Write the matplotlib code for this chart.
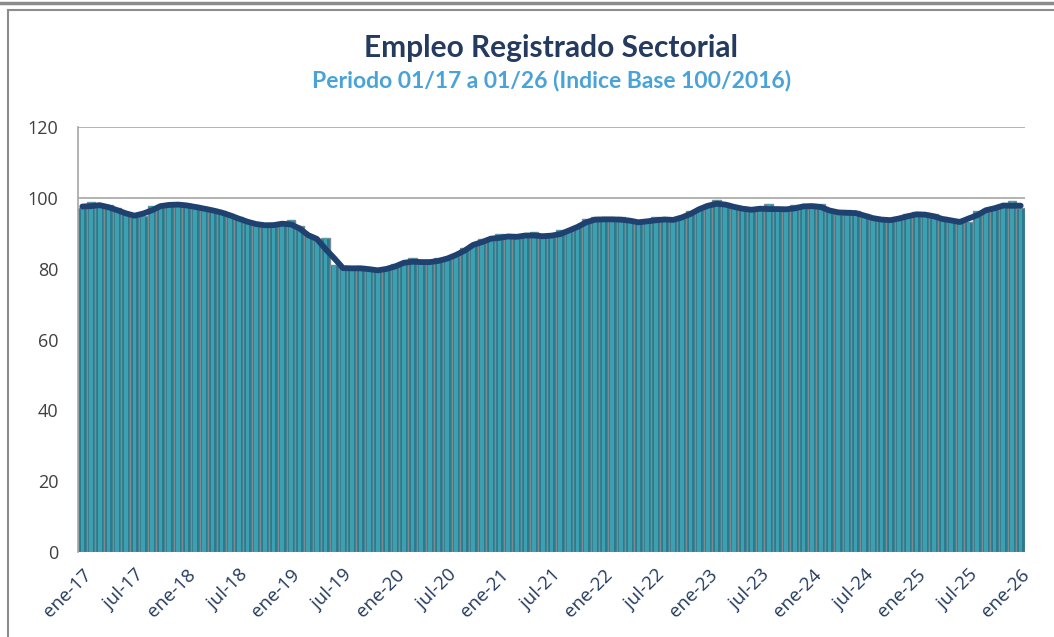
import numpy as np
import pandas as pd
import matplotlib
matplotlib.use("Agg")
import matplotlib.pyplot as plt
from matplotlib.patches import Rectangle

# Indice de empleo registrado, mensual ene-17 a ene-26 (base 100 = 2016)
meses = pd.date_range("2017-01-01", "2026-01-01", freq="MS")
valores = [
    97.2, 98.7, 98.3, 98.0, 97.0, 95.8, 95.3, 95.0, 97.6, 98.0, 98.6, 98.6,   # 2017
    98.3, 97.9, 97.3, 96.9, 96.4, 95.5, 94.5, 93.6, 92.9, 92.5, 92.6, 93.0,   # 2018
    93.7, 92.0, 89.6, 88.0, 88.8, 81.0, 80.2, 80.5, 80.8, 80.2, 79.8, 79.8,   # 2019
    81.4, 81.9, 82.9, 82.3, 81.6, 82.9, 83.3, 83.6, 85.9, 87.0, 88.5, 88.2,   # 2020
    89.9, 89.2, 89.4, 89.6, 90.3, 89.4, 89.0, 90.8, 90.7, 92.0, 93.9, 94.6,   # 2021
    94.2, 94.2, 94.6, 93.9, 93.4, 93.2, 94.7, 94.3, 93.9, 94.3, 96.4, 96.9,   # 2022
    98.3, 99.3, 98.6, 97.6, 97.4, 97.0, 96.7, 98.3, 96.7, 96.7, 98.1, 97.5,   # 2023
    98.4, 98.3, 96.7, 95.5, 96.7, 96.3, 95.3, 94.6, 94.1, 94.1, 94.1, 95.5,   # 2024
    96.0, 95.7, 95.3, 94.6, 93.4, 94.1, 93.2, 96.4, 96.9, 97.4, 98.1, 99.2,   # 2025
    97.2,                                                                     # 2026
]
nombres_mes = {1: "ene", 7: "jul"}
etiquetas = [f"{nombres_mes[m.month]}-{m.strftime('%y')}" for m in meses if m.month in (1, 7)]

serie = pd.Series(valores, index=meses)
tendencia = serie.rolling(3, center=True, min_periods=1).mean()  # media movil (linea)

x = np.arange(len(valores))

fig = plt.figure(figsize=(10.54, 6.37), dpi=100)
ax = fig.add_axes([0.074, 0.1334, 0.8985, 0.6672])

# marco exterior
fig.add_artist(plt.Line2D([0, 1], [0.995, 0.995], color="#8c8c8c", lw=2.5, transform=fig.transFigure))
fig.add_artist(Rectangle((0.008, -0.01), 1.1, 0.995, transform=fig.transFigure,
                         fill=False, edgecolor="#8c8c8c", lw=1.5))

# barras con un poco de brillo al centro
ax.bar(x, valores, width=1.0, color="#2b7b8e", edgecolor="#7d8b90", linewidth=1.0, zorder=2)
ax.bar(x, valores, width=0.42, color="#3aa0b2", linewidth=0, zorder=3)
ax.plot(x, tendencia.values - 0.4, color="#1f4170", lw=4.2, solid_capstyle="round", zorder=4)

ax.set_xlim(-0.5, len(valores) - 0.5)
ax.set_ylim(0, 120)
ax.set_yticks(range(0, 121, 20))
ax.yaxis.grid(True, color="#a6a6a6", lw=1.2, zorder=1)
ax.set_axisbelow(True)
for lado in ["top", "right", "bottom"]:
    ax.spines[lado].set_visible(False)
ax.spines["left"].set_color("#a6a6a6")
ax.spines["left"].set_linewidth(1.2)

ax.set_xticks(x[::6])
ax.set_xticklabels(etiquetas, rotation=45, ha="right", rotation_mode="anchor",
                   fontsize=13.5, color="#243a5e", family="Open Sans")
ax.tick_params(axis="x", length=0, pad=10)
ax.tick_params(axis="y", length=0, pad=14, labelsize=13, labelcolor="#404040")
for t in ax.get_yticklabels():
    t.set_family("Open Sans")

fig.text(0.523, 0.924, "Empleo Registrado Sectorial", ha="center", va="center",
         fontsize=21.5, fontweight="bold", color="#243a5e", family="Lato")
fig.text(0.523, 0.874, "Periodo 01/17 a 01/26 (Indice Base 100/2016)", ha="center", va="center",
         fontsize=16.5, fontweight="bold", color="#4aa3d8", family="Lato")

fig.savefig("out.png", dpi=100)
